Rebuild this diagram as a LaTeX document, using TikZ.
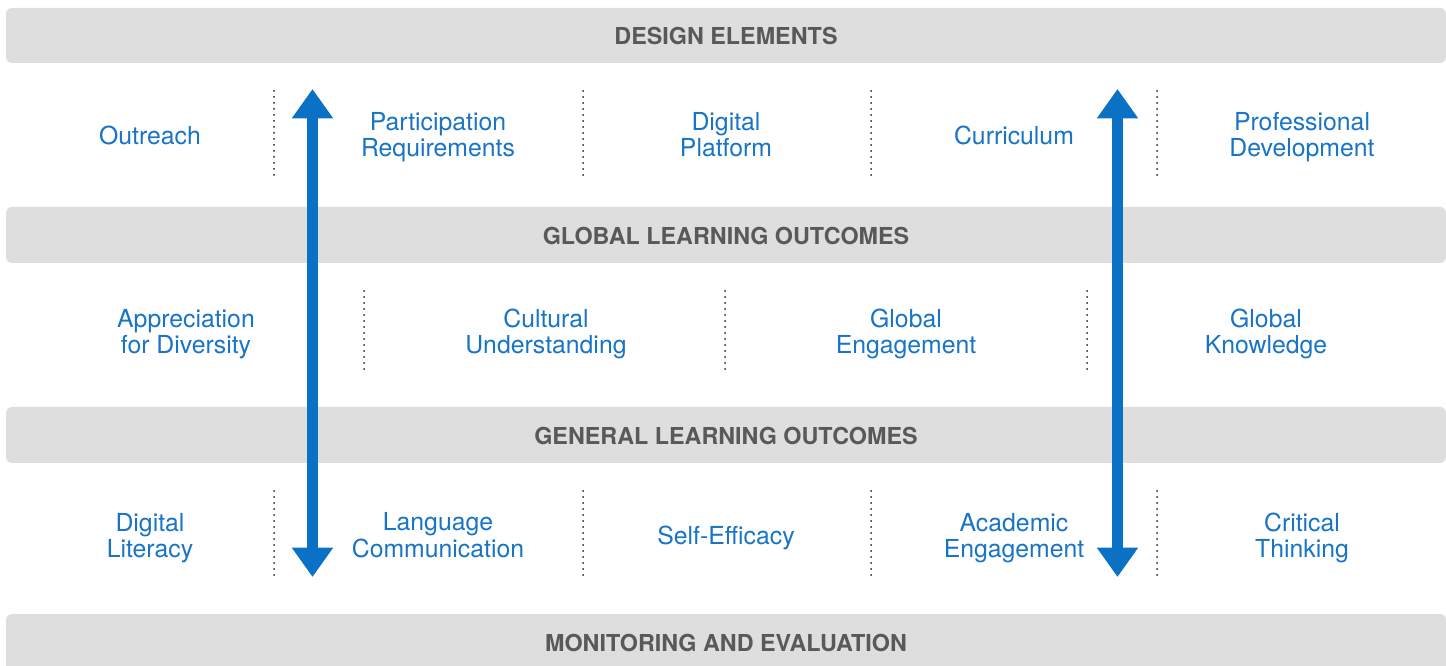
\documentclass[tikz,border=0pt]{standalone}
\usepackage{fontspec}
\setmainfont{TeX Gyre Heros}
\usetikzlibrary{arrows.meta}
\definecolor{barGray}{HTML}{DEDEDE}
\definecolor{headGray}{HTML}{58595B}
\definecolor{itemBlue}{HTML}{1874C6}
\definecolor{arrowBlue}{HTML}{0A71C4}
\definecolor{dotGray}{HTML}{222222}
\begin{document}
\begin{tikzpicture}[x=0.75pt,y=-0.75pt,
  bar/.style={fill=barGray, rounded corners=4.5pt},
  header/.style={text=headGray, font=\fontsize{17.5pt}{20pt}\selectfont\bfseries, anchor=center, inner sep=0pt},
  item/.style={text=itemBlue, font=\fontsize{18.6pt}{19.5pt}\selectfont, align=center, anchor=center, inner sep=0pt},
  sep/.style={draw=dotGray, line width=1.5pt, line cap=round, dash pattern=on 0pt off 4.5pt},
  bigarrow/.style={draw=arrowBlue, line width=8.3pt, {Triangle[width=29.5pt,length=22pt]}-{Triangle[width=29.5pt,length=22pt]}}
]
\useasboundingbox (0,0) rectangle (1446,666);
\clip (0,0) rectangle (1446,666);
% bars
\path[bar] (6,8) rectangle (1446,63);
\path[bar] (6,207) rectangle (1446,263);
\path[bar] (6,407) rectangle (1446,463);
\path[bar] (6,614) rectangle (1446,680);
% headers
\node[header] (h1) at (726,36) {DESIGN ELEMENTS};
\node[header] (h2) at (726,236) {GLOBAL LEARNING OUTCOMES};
\node[header] (h3) at (726,436) {GENERAL LEARNING OUTCOMES};
\node[header] (h4) at (726,643) {MONITORING AND EVALUATION};
% row 1
\node[item] (d1) at (150,138.8) {\strut Outreach};
\node[item] (d2) at (438,138.8) {\strut Participation\\\strut Requirements};
\node[item] (d3) at (726,138.8) {\strut Digital\\\strut Platform};
\node[item] (d4) at (1014,138.8) {\strut Curriculum};
\node[item] (d5) at (1302,138.8) {\strut Professional\\\strut Development};
% row 2
\node[item] (g1) at (186,335.3) {\strut Appreciation\\\strut for Diversity};
\node[item] (g2) at (546,335.3) {\strut Cultural\\\strut Understanding};
\node[item] (g3) at (906,335.3) {\strut Global\\\strut Engagement};
\node[item] (g4) at (1266,335.3) {\strut Global\\\strut Knowledge};
% row 3
\node[item] (o1) at (150,538.8) {\strut Digital\\\strut Literacy};
\node[item] (o2) at (438,538.8) {\strut Language\\\strut Communication};
\node[item] (o3) at (726,538.8) {\strut Self-Efficacy};
\node[item] (o4) at (1014,538.8) {\strut Academic\\\strut Engagement};
\node[item] (o5) at (1302,538.8) {\strut Critical\\\strut Thinking};
% separators
\foreach \x [count=\i] in {274,583,871,1157}{
  \coordinate (s1t\i) at (\x,91); \coordinate (s1b\i) at (\x,180);
  \draw[sep] (s1t\i) -- (s1b\i);
  \coordinate (s3t\i) at (\x,491); \coordinate (s3b\i) at (\x,579);
  \draw[sep] (s3t\i) -- (s3b\i);
}
\foreach \x [count=\i] in {364,725,1087}{
  \coordinate (s2t\i) at (\x,291); \coordinate (s2b\i) at (\x,374);
  \draw[sep] (s2t\i) -- (s2b\i);
}
% arrows
\coordinate (aLt) at (312.5,89);
\coordinate (aLb) at (312.5,577);
\coordinate (aRt) at (1117.5,89);
\coordinate (aRb) at (1117.5,577);
\draw[bigarrow] (aLt) -- (aLb);
\draw[bigarrow] (aRt) -- (aRb);
\end{tikzpicture}
\end{document}
